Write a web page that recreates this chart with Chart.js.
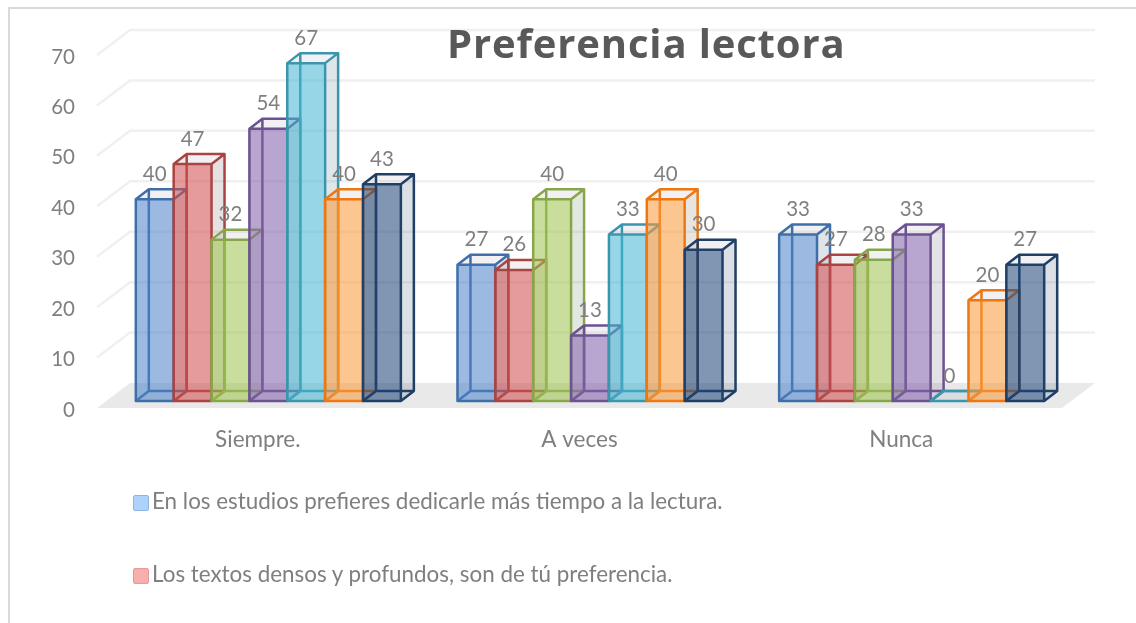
<!DOCTYPE html>
<html lang="es">
<head>
  <meta charset="UTF-8" />
  <title>Preferencia lectora</title>
  <script src="https://cdn.jsdelivr.net/npm/chart.js"></script>
  <style>
    html, body { margin: 0; padding: 0; background: #fff; overflow: hidden; }
    #wrap { position: relative; width: 1136px; height: 623px; }
    #frame { position: absolute; left: 8px; top: 7px; right: -4px; bottom: -4px; border: 2px solid #d9d9d9; }
    #title { position: absolute; left: 447px; top: 15px; font: bold 40px "Open Sans", sans-serif; color: #595959; white-space: nowrap; letter-spacing: 0.85px; }
    .leg { position: absolute; left: 133px; font: 22.4px Lato, sans-serif; color: #7f7f7f; white-space: nowrap; line-height: 24px; }
    .leg i { display: inline-block; width: 14px; height: 14px; border: 1.5px solid; border-radius: 2px; vertical-align: -2px; margin-right: 3px; }
    canvas { position: absolute; left: 0; top: 0; }
  </style>
</head>
<body>
  <div id="wrap">
    <div id="frame"></div>
    <canvas id="chart" width="1136" height="623"></canvas>
    <div id="title">Preferencia lectora</div>
    <div id="legend"></div>
  </div>

  <script>
    const categories = ['Siempre.', 'A veces', 'Nunca'];
    const serie1 = [40, 27, 33];
    const serie2 = [47, 26, 27];
    const serie3 = [32, 40, 28];
    const serie4 = [54, 13, 33];
    const serie5 = [67, 33, 0];
    const serie6 = [40, 40, 20];
    const serie7 = [43, 30, 27];
    const allSeries = [serie1, serie2, serie3, serie4, serie5, serie6, serie7];
    // only the first two legend entries are visible, the rest is cut off in the picture
    const legendNames = [
      'En los estudios prefieres dedicarle más tiempo a la lectura.',
      'Los textos densos y profundos, son de tú preferencia.'
    ];
    const strokeColors = ['#3f6fa8', '#a94442', '#87a64a', '#6b5290', '#3a96ac', '#ee7711', '#1f3f66'];
    const fillColors = ['77,130,202', '209,77,77', '159,197,79', '130,96,171', '68,182,211', '250,154,57', '29,68,120'];
    const swatchFill = ['#aed3fb', '#f7aeac'];
    const swatchLine = ['#8fb4e0', '#e59a98'];

    // 3D look: wall depth of the plot and depth of a single bar
    const wallDx = 33, wallDy = -25;
    const barShiftX = 10.5, barShiftY = -7;
    const barDx = 13, barDy = -10;

    function poly(ctx, pts) {
      ctx.beginPath();
      pts.forEach((p, i) => i ? ctx.lineTo(p[0], p[1]) : ctx.moveTo(p[0], p[1]));
      ctx.closePath();
    }

    function drawBox(ctx, el, i) {
      const x0 = el.x - el.width / 2 + barShiftX;
      const x1 = el.x + el.width / 2 + barShiftX;
      const top = el.y + barShiftY;
      const base = el.base + barShiftY;
      const rgb = fillColors[i];
      ctx.lineJoin = 'round';

      // side and top faces, grey with a little of the series colour
      const side = [[x1, top], [x1 + barDx, top + barDy], [x1 + barDx, base + barDy], [x1, base]];
      ctx.fillStyle = 'rgba(95,105,115,0.15)';
      poly(ctx, side);
      ctx.fill();
      ctx.fillStyle = `rgba(${rgb},0.05)`;
      poly(ctx, side);
      ctx.fill();
      ctx.fillStyle = 'rgba(95,105,130,0.09)';
      poly(ctx, [[x0, top], [x1, top], [x1 + barDx, top + barDy], [x0 + barDx, top + barDy]]);
      ctx.fill();

      // hidden edges
      ctx.strokeStyle = strokeColors[i];
      ctx.lineWidth = 2.5;
      ctx.beginPath();
      ctx.moveTo(x0 + barDx, top + barDy); ctx.lineTo(x0 + barDx, base + barDy); ctx.lineTo(x1 + barDx, base + barDy);
      ctx.moveTo(x0, base); ctx.lineTo(x0 + barDx, base + barDy);
      ctx.stroke();

      // front face
      ctx.fillStyle = `rgba(${rgb},0.56)`;
      ctx.fillRect(x0, top, x1 - x0, base - top);

      // visible edges
      ctx.beginPath();
      ctx.rect(x0, top, x1 - x0, base - top);
      ctx.moveTo(x0, top); ctx.lineTo(x0 + barDx, top + barDy); ctx.lineTo(x1 + barDx, top + barDy); ctx.lineTo(x1, top);
      ctx.moveTo(x1 + barDx, top + barDy); ctx.lineTo(x1 + barDx, base + barDy); ctx.lineTo(x1, base);
      ctx.stroke();
    }

    const walls3d = {
      id: 'walls3d',
      beforeDatasetsDraw(chart) {
        const ctx = chart.ctx, a = chart.chartArea, y = chart.scales.y;
        ctx.save();
        ctx.fillStyle = '#e9e9e9';
        poly(ctx, [[a.left, a.bottom], [a.right, a.bottom], [a.right + wallDx, a.bottom + wallDy], [a.left + wallDx, a.bottom + wallDy]]);
        ctx.fill();
        ctx.strokeStyle = '#f0f0f0';
        ctx.lineWidth = 2.5;
        y.ticks.forEach(t => {
          if (t.value === 0) return;
          const py = y.getPixelForValue(t.value);
          ctx.beginPath();
          ctx.moveTo(a.left, py);
          ctx.lineTo(a.left + wallDx, py + wallDy);
          ctx.lineTo(a.right + wallDx, py + wallDy);
          ctx.stroke();
        });
        // y tick labels sit about 2px lower than the scale would put them
        ctx.font = '20.5px Lato, sans-serif';
        ctx.fillStyle = '#7f7f7f';
        ctx.textAlign = 'right';
        ctx.textBaseline = 'middle';
        y.ticks.forEach(t => ctx.fillText(t.label, 75, y.getPixelForValue(t.value) + 2));
        ctx.restore();
      },
      afterDatasetsDraw(chart) {
        const ctx = chart.ctx;
        ctx.save();
        chart.data.datasets.forEach((ds, i) => {
          chart.getDatasetMeta(i).data.forEach(el => drawBox(ctx, el, i));
        });
        // value labels go on top of all boxes
        ctx.font = '20.5px Lato, sans-serif';
        ctx.fillStyle = '#7f7f7f';
        ctx.textAlign = 'center';
        ctx.textBaseline = 'middle';
        chart.data.datasets.forEach((ds, i) => {
          chart.getDatasetMeta(i).data.forEach((el, j) => {
            ctx.fillText(ds.data[j], el.x + barShiftX, el.y + barShiftY - 25);
          });
        });
        ctx.restore();
      }
    };

    new Chart(document.getElementById('chart'), {
      type: 'bar',
      data: {
        labels: categories,
        datasets: allSeries.map((s, i) => ({
          label: legendNames[i] || '',
          data: s,
          backgroundColor: 'transparent',
          borderWidth: 0,
          categoryPercentage: 0.824,
          barPercentage: 1
        }))
      },
      options: {
        responsive: false,
        animation: false,
        layout: { padding: { top: 55, right: 74, left: 0, bottom: 0 } },
        plugins: { legend: { display: false }, title: { display: false }, tooltip: { enabled: false } },
        scales: {
          x: {
            grid: { display: false },
            border: { display: false },
            ticks: { color: '#7f7f7f', font: { family: 'Lato', size: 22.5 }, padding: 10, maxRotation: 0 },
            afterFit: s => { s.height = 215; }
          },
          y: {
            min: 0,
            max: 70,
            grid: { display: false },
            border: { display: false },
            ticks: { display: false, stepSize: 10 },
            afterFit: s => { s.width = 97; }
          }
        }
      },
      plugins: [walls3d]
    });

    const legendTops = [489, 562];
    legendNames.forEach((name, i) => {
      const row = document.createElement('div');
      row.className = 'leg';
      row.style.top = legendTops[i] + 'px';
      row.innerHTML = `<i style="background:${swatchFill[i]};border-color:${swatchLine[i]}"></i>${name}`;
      document.getElementById('legend').appendChild(row);
    });
  </script>
</body>
</html>
